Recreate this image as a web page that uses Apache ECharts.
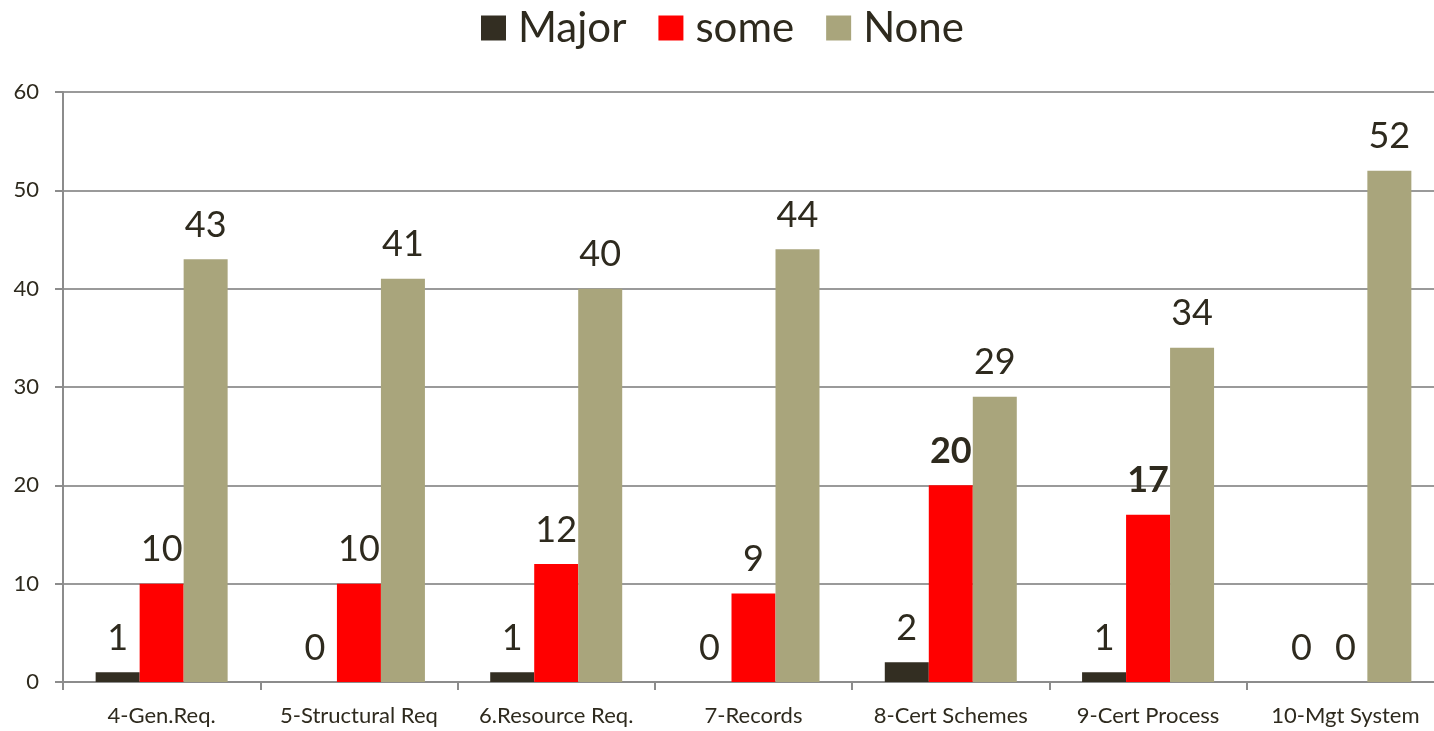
<!DOCTYPE html>
<html>
<head>
<meta charset="utf-8">
<script src="https://cdn.jsdelivr.net/npm/echarts@6/dist/echarts.min.js"></script>
<style>
  html, body { margin: 0; padding: 0; background: #fff; }
  #main { width: 1434px; height: 731px; }
</style>
</head>
<body>
<div id="main"></div>
<script>
// data
var categories = ['4-Gen.Req.', '5-Structural Req', '6.Resource Req.', '7-Records', '8-Cert Schemes', '9-Cert Process', '10-Mgt System'];
var majorVals = [1, 0, 1, 0, 2, 1, 0];
var someVals = [10, 10, 12, 9, 20, 17, 0];
var noneVals = [43, 41, 40, 44, 29, 34, 52];
var boldSome = [20, 17];   // these labels are bold in the original
var yTicks = [0, 10, 20, 30, 40, 50, 60];

var txt = '#2e2a1e';
var font = 'Lato, "Open Sans", sans-serif';

var myChart = echarts.init(document.getElementById('main'));

function barLabel() {
    return {
        show: true,
        position: 'top',
        distance: 16,
        color: txt,
        fontSize: 36,
        fontFamily: font
    };
}

var someData = someVals.map(function (v) {
    if (boldSome.indexOf(v) != -1) {
        return { value: v, label: { fontWeight: 'bold' } };
    }
    return v;
});

var option = {
    animation: false,
    legend: {
        top: 2,
        left: 476,
        itemWidth: 25,
        itemHeight: 25,
        itemGap: 32,
        icon: 'rect',
        textStyle: { color: txt, fontSize: 42, fontFamily: font, padding: [0, 0, 0, 7] },
        data: ['Major', 'some', 'None']
    },
    grid: {
        left: 63,
        width: 1381,
        top: 92,
        bottom: 49,
        containLabel: false,
        outerBoundsMode: 'none'
    },
    xAxis: {
        type: 'category',
        data: categories,
        axisLine: { lineStyle: { color: '#8c8c8c', width: 2 } },
        axisTick: { show: true, length: 8, lineStyle: { color: '#8c8c8c', width: 2 } },
        axisLabel: { color: txt, fontSize: 22, fontFamily: font, margin: 23, interval: 0 }
    },
    yAxis: {
        type: 'value',
        min: yTicks[0],
        max: yTicks[yTicks.length - 1],
        interval: 10,
        axisLine: { show: true, lineStyle: { color: '#8c8c8c', width: 2 } },
        axisTick: { show: true, length: 8, lineStyle: { color: '#8c8c8c', width: 2 } },
        axisLabel: { color: txt, fontSize: 22, fontFamily: font, margin: 24 },
        splitLine: { lineStyle: { color: '#9a9a9a', width: 2 } }
    },
    series: [
        {
            name: 'Major',
            type: 'bar',
            data: majorVals,
            barWidth: 44,
            barGap: '0%',
            itemStyle: { color: '#332e22' },
            label: barLabel()
        },
        {
            name: 'some',
            type: 'bar',
            data: someData,
            barWidth: 44,
            barGap: '0%',
            itemStyle: { color: '#ff0000' },
            label: barLabel()
        },
        {
            name: 'None',
            type: 'bar',
            data: noneVals,
            barWidth: 44,
            barGap: '0%',
            itemStyle: { color: '#a9a57c' },
            label: barLabel()
        }
    ]
};

myChart.setOption(option);
</script>
</body>
</html>
